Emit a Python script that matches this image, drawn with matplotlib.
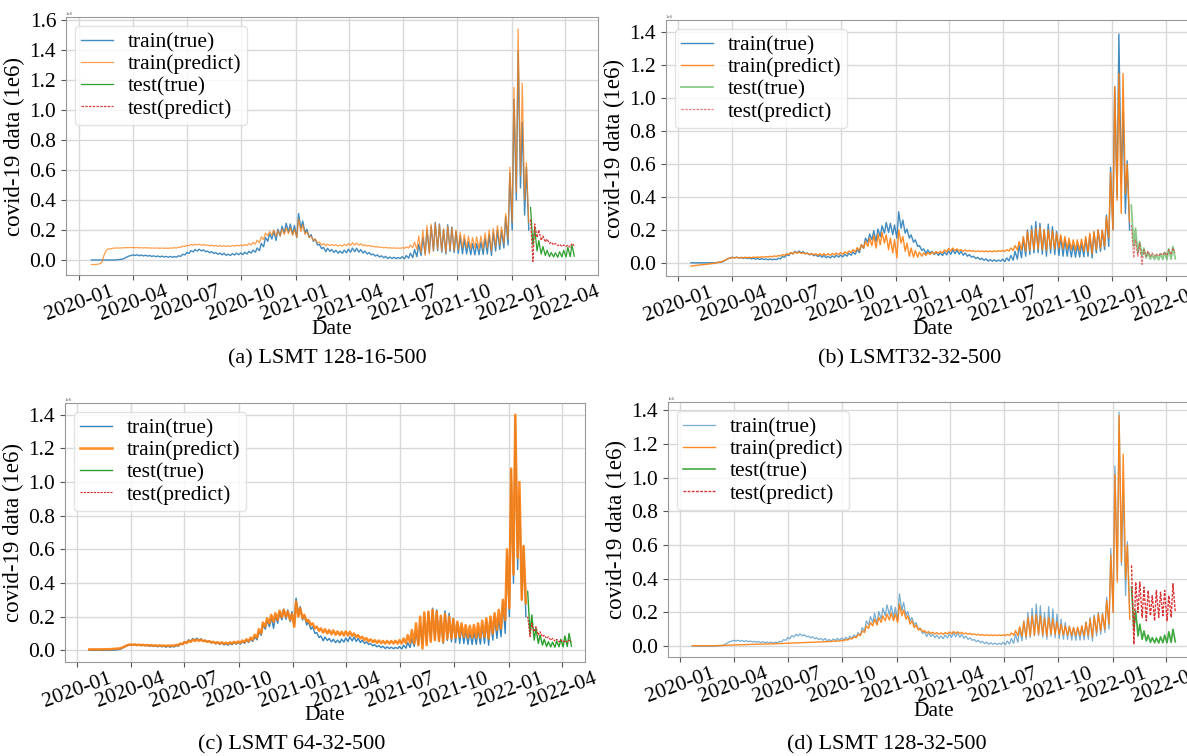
import matplotlib
matplotlib.use('Agg')
import matplotlib.pyplot as plt
import matplotlib.dates as mdates
import numpy as np
import pandas as pd

plt.rcParams['font.family'] = ['Liberation Serif', 'DejaVu Serif']

# weekly samples: (mid-week high, weekend low), weeks start 2020-01-20, values in 1e6
week0 = pd.Timestamp('2020-01-20')
n_train_weeks = 106
n_test_weeks = 11

true_train = [
    0.000, 0.000, 0.000, 0.000, 0.000, 0.000, 0.000, 0.000, 0.000, 0.000, 0.000, 0.000,
    0.001, 0.002, 0.004, 0.006, 0.012, 0.020, 0.026, 0.030, 0.034, 0.030,            # 2020-03
    0.035, 0.028, 0.033, 0.027, 0.032, 0.026, 0.030, 0.024,                          # 2020-04
    0.028, 0.022, 0.027, 0.020, 0.026, 0.020, 0.024, 0.018,                          # 2020-05
    0.024, 0.018, 0.023, 0.019, 0.028, 0.024, 0.038, 0.034, 0.050, 0.044,            # 2020-06
    0.062, 0.054, 0.070, 0.060, 0.072, 0.060, 0.068, 0.055,                          # 2020-07
    0.060, 0.048, 0.056, 0.043, 0.050, 0.038, 0.046, 0.034, 0.045, 0.031,            # 2020-08
    0.039, 0.030, 0.042, 0.033, 0.046, 0.035, 0.047, 0.036,                          # 2020-09
    0.052, 0.040, 0.058, 0.046, 0.066, 0.052, 0.080, 0.062,                          # 2020-10
    0.110, 0.088, 0.150, 0.125, 0.175, 0.140, 0.195, 0.130, 0.205, 0.160,            # 2020-11
    0.225, 0.180, 0.245, 0.185, 0.240, 0.170, 0.230, 0.150,                          # 2020-12
    0.310, 0.210, 0.260, 0.180, 0.205, 0.150, 0.170, 0.125,                          # 2021-01
    0.140, 0.100, 0.105, 0.075, 0.085, 0.056, 0.078, 0.058,                          # 2021-02
    0.070, 0.050, 0.065, 0.045, 0.060, 0.044, 0.066, 0.048, 0.072, 0.052,            # 2021-03
    0.080, 0.055, 0.078, 0.052, 0.070, 0.046, 0.060, 0.040,                          # 2021-04
    0.050, 0.034, 0.040, 0.026, 0.034, 0.020, 0.028, 0.015, 0.024, 0.010,            # 2021-05
    0.020, 0.010, 0.018, 0.009, 0.017, 0.010, 0.022, 0.008,                          # 2021-06
    0.030, 0.012, 0.045, 0.016, 0.070, 0.022, 0.105, 0.030,                          # 2021-07
    0.150, 0.040, 0.200, 0.050, 0.225, 0.060, 0.250, 0.062, 0.240, 0.052,            # 2021-08
    0.200, 0.040, 0.235, 0.058, 0.220, 0.050, 0.190, 0.045,                          # 2021-09
    0.160, 0.040, 0.140, 0.040, 0.120, 0.035, 0.110, 0.034,                          # 2021-10
    0.110, 0.035, 0.120, 0.036, 0.145, 0.040, 0.170, 0.030, 0.185, 0.060,            # 2021-11
    0.200, 0.070, 0.195, 0.080, 0.290, 0.100, 0.580, 0.200,                          # 2021-12
    1.070, 0.400, 1.390, 0.480, 0.920, 0.300, 0.620, 0.200,                          # 2022-01
]
true_test = [
    0.350, 0.100, 0.210, 0.060, 0.130, 0.040, 0.090, 0.030,
    0.065, 0.022, 0.050, 0.020, 0.048, 0.018, 0.055, 0.020,
    0.065, 0.020, 0.085, 0.022, 0.100, 0.025,
]

pred_train_a = [
    -0.030, -0.030, -0.030, -0.028, -0.025, -0.015, 0.030, 0.065, 0.072, 0.075, 0.078, 0.080,
    0.080, 0.080, 0.080, 0.081, 0.082, 0.082, 0.083, 0.083, 0.083, 0.082,
    0.083, 0.081, 0.082, 0.080, 0.082, 0.080, 0.081, 0.079,
    0.080, 0.079, 0.080, 0.078, 0.080, 0.078, 0.079, 0.078,
    0.080, 0.079, 0.082, 0.080, 0.086, 0.084, 0.092, 0.090, 0.098, 0.095,
    0.104, 0.098, 0.106, 0.100, 0.106, 0.098, 0.104, 0.097,
    0.100, 0.094, 0.099, 0.092, 0.097, 0.091, 0.096, 0.090, 0.096, 0.090,
    0.095, 0.090, 0.097, 0.092, 0.099, 0.094, 0.100, 0.094,
    0.104, 0.097, 0.110, 0.100, 0.118, 0.106, 0.132, 0.115,
    0.155, 0.135, 0.180, 0.160, 0.190, 0.165, 0.200, 0.160, 0.195, 0.160,
    0.205, 0.170, 0.215, 0.175, 0.215, 0.165, 0.205, 0.150,
    0.275, 0.190, 0.235, 0.170, 0.190, 0.150, 0.160, 0.130,
    0.140, 0.115, 0.120, 0.100, 0.110, 0.095, 0.106, 0.096,
    0.104, 0.095, 0.102, 0.093, 0.100, 0.092, 0.105, 0.095, 0.110, 0.098,
    0.115, 0.100, 0.113, 0.098, 0.108, 0.095, 0.102, 0.092,
    0.098, 0.090, 0.093, 0.086, 0.090, 0.083, 0.086, 0.081, 0.084, 0.080,
    0.082, 0.079, 0.081, 0.078, 0.080, 0.078, 0.082, 0.078,
    0.088, 0.080, 0.100, 0.082, 0.120, 0.070, 0.160, 0.050,
    0.200, 0.030, 0.230, 0.040, 0.240, 0.060, 0.245, 0.070, 0.235, 0.060,
    0.210, 0.050, 0.225, 0.070, 0.215, 0.060, 0.200, 0.070,
    0.185, 0.080, 0.170, 0.080, 0.160, 0.075, 0.150, 0.080,
    0.155, 0.075, 0.160, 0.075, 0.180, 0.080, 0.200, 0.060, 0.210, 0.090,
    0.230, 0.100, 0.220, 0.110, 0.310, 0.140, 0.620, 0.250,
    1.150, 0.450, 1.540, 0.560, 1.180, 0.400, 0.650, 0.250,
]
pred_test_a = [
    0.270, -0.010, 0.240, 0.150, 0.200, 0.130, 0.160, 0.120,
    0.140, 0.110, 0.120, 0.100, 0.110, 0.095, 0.105, 0.090,
    0.100, 0.090, 0.100, 0.085, 0.110, 0.095,
]

pred_train_b = [
    -0.020, -0.018, -0.016, -0.015, -0.013, -0.012, -0.010, -0.010, -0.008, -0.006, -0.005, -0.003,
    0.000, 0.002, 0.005, 0.008, 0.014, 0.020, 0.026, 0.030, 0.032, 0.030,
    0.033, 0.030, 0.033, 0.030, 0.034, 0.031, 0.034, 0.031,
    0.035, 0.032, 0.036, 0.033, 0.037, 0.034, 0.038, 0.035,
    0.040, 0.036, 0.042, 0.038, 0.045, 0.041, 0.050, 0.046, 0.055, 0.050,
    0.062, 0.055, 0.066, 0.058, 0.066, 0.057, 0.062, 0.054,
    0.058, 0.050, 0.056, 0.048, 0.055, 0.047, 0.055, 0.046, 0.056, 0.046,
    0.055, 0.046, 0.057, 0.048, 0.060, 0.050, 0.062, 0.052,
    0.066, 0.056, 0.072, 0.062, 0.080, 0.066, 0.092, 0.075,
    0.110, 0.090, 0.130, 0.100, 0.150, 0.105, 0.165, 0.090, 0.175, 0.110,
    0.185, 0.120, 0.170, 0.080, 0.150, 0.060, 0.140, 0.030,
    0.200, 0.120, 0.160, 0.070, 0.120, 0.040, 0.090, 0.035,
    0.075, 0.035, 0.065, 0.040, 0.060, 0.045, 0.062, 0.050,
    0.065, 0.055, 0.068, 0.058, 0.070, 0.060, 0.078, 0.066, 0.088, 0.072,
    0.090, 0.074, 0.085, 0.072, 0.080, 0.070, 0.078, 0.070,
    0.076, 0.070, 0.074, 0.068, 0.073, 0.068, 0.072, 0.067, 0.072, 0.067,
    0.072, 0.067, 0.073, 0.068, 0.074, 0.069, 0.076, 0.070,
    0.080, 0.072, 0.090, 0.075, 0.105, 0.078, 0.130, 0.080,
    0.160, 0.070, 0.190, 0.075, 0.200, 0.080, 0.210, 0.085, 0.215, 0.080,
    0.200, 0.075, 0.200, 0.085, 0.195, 0.085, 0.180, 0.090,
    0.170, 0.085, 0.160, 0.085, 0.150, 0.080, 0.140, 0.075,
    0.140, 0.075, 0.145, 0.070, 0.160, 0.065, 0.180, 0.055, 0.190, 0.080,
    0.200, 0.090, 0.200, 0.100, 0.280, 0.150, 0.550, 0.200,
    1.070, 0.380, 1.150, 0.300, 1.150, 0.420, 0.600, 0.250,
]
pred_test_b = [
    0.230, 0.030, 0.140, 0.040, 0.120, -0.010, 0.080, 0.040,
    0.070, 0.040, 0.060, 0.040, 0.055, 0.040, 0.060, 0.045,
    0.065, 0.045, 0.080, 0.050, 0.090, 0.060,
]

pred_train_c = [
    0.005, 0.005, 0.005, 0.005, 0.005, 0.005, 0.005, 0.006, 0.006, 0.006, 0.006, 0.007,
    0.008, 0.009, 0.010, 0.012, 0.016, 0.022, 0.028, 0.032, 0.034, 0.032,
    0.034, 0.031, 0.033, 0.030, 0.032, 0.029, 0.031, 0.028,
    0.030, 0.027, 0.029, 0.026, 0.029, 0.026, 0.028, 0.025,
    0.028, 0.025, 0.029, 0.026, 0.032, 0.029, 0.040, 0.036, 0.048, 0.043,
    0.056, 0.050, 0.062, 0.055, 0.064, 0.056, 0.062, 0.054,
    0.057, 0.050, 0.054, 0.046, 0.050, 0.042, 0.048, 0.040, 0.047, 0.038,
    0.045, 0.038, 0.047, 0.040, 0.050, 0.042, 0.052, 0.044,
    0.058, 0.048, 0.065, 0.054, 0.075, 0.062, 0.092, 0.075,
    0.125, 0.100, 0.165, 0.140, 0.190, 0.160, 0.210, 0.170, 0.220, 0.180,
    0.235, 0.195, 0.240, 0.200, 0.230, 0.180, 0.215, 0.140,
    0.290, 0.200, 0.250, 0.190, 0.210, 0.170, 0.180, 0.150,
    0.160, 0.130, 0.140, 0.115, 0.130, 0.105, 0.125, 0.100,
    0.120, 0.095, 0.118, 0.092, 0.112, 0.090, 0.110, 0.088, 0.112, 0.088,
    0.110, 0.085, 0.100, 0.078, 0.090, 0.070, 0.080, 0.060,
    0.072, 0.052, 0.065, 0.048, 0.060, 0.044, 0.058, 0.042, 0.055, 0.040,
    0.055, 0.040, 0.055, 0.040, 0.056, 0.040, 0.060, 0.040,
    0.070, 0.042, 0.090, 0.045, 0.120, 0.040, 0.160, 0.030,
    0.200, 0.010, 0.225, 0.030, 0.230, 0.050, 0.240, 0.060, 0.230, 0.055,
    0.205, 0.050, 0.215, 0.070, 0.200, 0.070, 0.185, 0.075,
    0.170, 0.080, 0.160, 0.080, 0.150, 0.075, 0.145, 0.075,
    0.150, 0.075, 0.160, 0.075, 0.175, 0.080, 0.190, 0.070, 0.200, 0.100,
    0.220, 0.120, 0.240, 0.130, 0.300, 0.180, 0.600, 0.250,
    1.080, 0.450, 1.400, 0.550, 1.000, 0.300, 0.620, 0.280,
]
pred_test_c = [
    0.200, 0.080, 0.160, 0.110, 0.140, 0.090, 0.110, 0.080,
    0.090, 0.070, 0.080, 0.060, 0.070, 0.055, 0.065, 0.050,
    0.060, 0.048, 0.058, 0.048, 0.060, 0.050,
]

pred_train_d = [
    0.002, 0.002, 0.002, 0.002, 0.002, 0.002, 0.002, 0.002, 0.002, 0.002, 0.002, 0.002,
    0.003, 0.003, 0.003, 0.004, 0.004, 0.005, 0.005, 0.006, 0.006, 0.007,
    0.007, 0.008, 0.008, 0.008, 0.009, 0.009, 0.010, 0.010,
    0.010, 0.011, 0.011, 0.011, 0.012, 0.012, 0.012, 0.013,
    0.013, 0.013, 0.014, 0.014, 0.015, 0.015, 0.016, 0.016, 0.017, 0.017,
    0.018, 0.018, 0.019, 0.019, 0.020, 0.020, 0.021, 0.021,
    0.022, 0.022, 0.023, 0.023, 0.024, 0.024, 0.025, 0.025, 0.026, 0.026,
    0.027, 0.027, 0.029, 0.028, 0.031, 0.030, 0.033, 0.032,
    0.038, 0.036, 0.045, 0.042, 0.055, 0.050, 0.070, 0.062,
    0.090, 0.080, 0.120, 0.105, 0.140, 0.120, 0.160, 0.125, 0.170, 0.140,
    0.180, 0.150, 0.190, 0.155, 0.195, 0.150, 0.190, 0.140,
    0.250, 0.180, 0.215, 0.160, 0.180, 0.130, 0.150, 0.110,
    0.125, 0.095, 0.105, 0.085, 0.092, 0.078, 0.086, 0.075,
    0.082, 0.072, 0.080, 0.070, 0.078, 0.070, 0.080, 0.072, 0.084, 0.074,
    0.086, 0.075, 0.085, 0.074, 0.082, 0.072, 0.078, 0.070,
    0.075, 0.068, 0.072, 0.066, 0.070, 0.064, 0.068, 0.063, 0.067, 0.062,
    0.066, 0.062, 0.066, 0.062, 0.066, 0.062, 0.067, 0.062,
    0.070, 0.063, 0.078, 0.064, 0.092, 0.062, 0.115, 0.058,
    0.145, 0.055, 0.170, 0.060, 0.180, 0.065, 0.185, 0.070, 0.180, 0.065,
    0.165, 0.060, 0.170, 0.070, 0.160, 0.070, 0.145, 0.068,
    0.130, 0.065, 0.120, 0.065, 0.115, 0.062, 0.110, 0.062,
    0.112, 0.062, 0.120, 0.062, 0.140, 0.065, 0.160, 0.055, 0.175, 0.080,
    0.190, 0.090, 0.190, 0.100, 0.270, 0.130, 0.540, 0.200,
    1.020, 0.380, 1.370, 0.500, 1.140, 0.400, 0.600, 0.160,
]
pred_test_d = [
    0.480, 0.010, 0.380, 0.200, 0.380, 0.170, 0.350, 0.150,
    0.330, 0.180, 0.300, 0.150, 0.330, 0.170, 0.320, 0.180,
    0.330, 0.150, 0.300, 0.170, 0.370, 0.200,
]

captions = ['(a) LSMT 128-16-500', '(b) LSMT32-32-500',
            '(c) LSMT 64-32-500', '(d) LSMT 128-32-500']
labels = ['train(true)', 'train(predict)', 'test(true)', 'test(predict)']


def week_dates(first, n):
    off = []
    for k in range(first, first + n):
        off += [7 * k + 2, 7 * k + 6]
    return week0 + pd.to_timedelta(off, unit='D')


d_train = week_dates(0, n_train_weeks)
d_test = week_dates(n_train_weeks, n_test_weeks)

fig = plt.figure(figsize=(11.87, 7.56), dpi=100)
W, H = 1187.0, 756.0

fs = 15.5
panels = [
    dict(px=(66, 598, 17, 275), ylim=(-0.10, 1.62), xlim=('2019-12-10', '2022-05-27'),
         ytop=1.6, pt=pred_train_a, pv=pred_test_a, cap=(327, 359), date_y=330,
         st=[dict(lw=1.0, alpha=0.85), dict(lw=0.9, alpha=0.75), dict(lw=0.9, alpha=1.0), dict(lw=0.9, alpha=0.9)]),
    dict(px=(666, 1199, 20, 276), ylim=(-0.08, 1.475), xlim=('2019-12-11', '2022-05-27'),
         ytop=1.4, pt=pred_train_b, pv=pred_test_b, cap=(910, 359), date_y=330,
         st=[dict(lw=1.0, alpha=0.85), dict(lw=1.0, alpha=0.9), dict(lw=1.3, alpha=0.55), dict(lw=0.9, alpha=0.6)]),
    dict(px=(65, 585, 403, 662), ylim=(-0.07, 1.47), xlim=('2019-12-12', '2022-05-10'),
         ytop=1.4, pt=pred_train_c, pv=pred_test_c, cap=(292, 745), date_y=716,
         st=[dict(lw=1.0, alpha=0.9), dict(lw=1.8, alpha=0.9), dict(lw=1.0, alpha=1.0), dict(lw=0.8, alpha=1.0)]),
    dict(px=(668, 1199, 402, 657), ylim=(-0.065, 1.45), xlim=('2019-12-12', '2022-05-27'),
         ytop=1.4, pt=pred_train_d, pv=pred_test_d, cap=(887, 745), date_y=712,
         st=[dict(lw=0.9, alpha=0.6), dict(lw=1.0, alpha=0.9), dict(lw=1.2, alpha=0.9), dict(lw=1.0, alpha=0.95)]),
]

colors = ['tab:blue', 'tab:orange', 'tab:green', 'tab:red']

for i, p in enumerate(panels):
    x0, x1, y0, y1 = p['px']
    ax = fig.add_axes([x0 / W, 1 - y1 / H, (x1 - x0) / W, (y1 - y0) / H])
    st = p['st']
    ax.plot(d_train, true_train, color=colors[0], label=labels[0], **st[0])
    ax.plot(d_train, p['pt'], color=colors[1], label=labels[1], **st[1])
    ax.plot(d_test, true_test, color=colors[2], label=labels[2], **st[2])
    ax.plot(d_test, p['pv'], color=colors[3], label=labels[3], linestyle=(0, (2, 1)), **st[3])

    ax.set_xlim(pd.Timestamp(p['xlim'][0]), pd.Timestamp(p['xlim'][1]))
    ax.set_ylim(*p['ylim'])
    ax.set_yticks(np.arange(0, p['ytop'] + 0.01, 0.2))
    ax.yaxis.set_major_formatter(matplotlib.ticker.FormatStrFormatter('%.1f'))
    ax.xaxis.set_major_locator(mdates.MonthLocator(bymonth=[1, 4, 7, 10]))
    ax.xaxis.set_major_formatter(mdates.DateFormatter('%Y-%m'))
    for lab in ax.get_xticklabels():
        lab.set_rotation(20)
        lab.set_ha('center')
    ax.tick_params(labelsize=fs, color='#555555')
    ax.tick_params(axis='x', pad=2)
    ax.grid(True, color='#d9d9d9', lw=1.0)
    for s in ax.spines.values():
        s.set_color('#999999')
        s.set_linewidth(0.8)
    ax.set_xlabel('Date', fontsize=fs, va='center')
    ax.xaxis.set_label_coords(0.5, -(p['date_y'] - y1) / (y1 - y0))
    ax.set_ylabel('covid-19 data (1e6)', fontsize=16.5, labelpad=3)
    ax.text(0.0, 1.004, '1e6', transform=ax.transAxes, fontsize=3.5, color='#555555', va='bottom')
    ax.legend(loc='upper left', fontsize=fs, labelspacing=0.1, handlelength=1.5,
              borderpad=0.3, handletextpad=0.65, borderaxespad=0.4,
              framealpha=0.8, edgecolor='#dddddd', fancybox=True)
    fig.text(p['cap'][0] / W, 1 - p['cap'][1] / H, captions[i], fontsize=16,
             ha='center', va='center')

fig.savefig('out.png', dpi=100)
